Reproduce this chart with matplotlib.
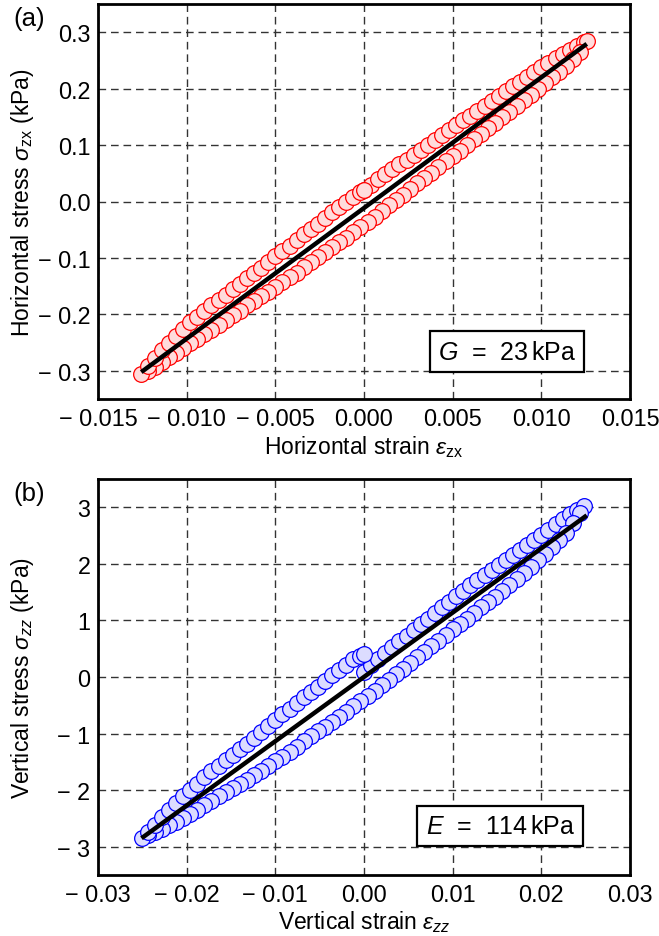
import matplotlib
matplotlib.use("Agg")
import matplotlib.pyplot as plt

plt.rcParams['font.family'] = ['Liberation Sans', 'DejaVu Sans']
plt.rcParams['mathtext.fontset'] = 'custom'
plt.rcParams['mathtext.rm'] = 'Liberation Sans'
plt.rcParams['mathtext.it'] = 'Liberation Sans:italic'
plt.rcParams['mathtext.bf'] = 'Liberation Sans:bold'

# ---------------- Panel (a): shear loop ----------------
a_strain = [
    # loading (upper, right)
    0.0000, 0.0004, 0.0008, 0.0012, 0.0016, 0.0020, 0.0024, 0.0028, 0.0032, 0.0036,
    0.0040, 0.0044, 0.0048, 0.0052, 0.0056, 0.0060, 0.0064, 0.0068, 0.0072, 0.0076,
    0.0080, 0.0084, 0.0088, 0.0092, 0.0096, 0.0100, 0.0104, 0.0108, 0.0112, 0.0116,
    0.0120, 0.0124, 0.0126,
    # unloading (lower)
    0.0122, 0.0118, 0.0114, 0.0110, 0.0106, 0.0102, 0.0098, 0.0094, 0.0090, 0.0086,
    0.0082, 0.0078, 0.0074, 0.0070, 0.0066, 0.0062, 0.0058, 0.0054, 0.0050, 0.0046,
    0.0042, 0.0038, 0.0034, 0.0030, 0.0026, 0.0022, 0.0018, 0.0014, 0.0010, 0.0006,
    0.0002, -0.0002, -0.0006, -0.0010, -0.0014, -0.0018, -0.0022, -0.0026, -0.0030, -0.0034,
    -0.0038, -0.0042, -0.0046, -0.0050, -0.0054, -0.0058, -0.0062, -0.0066, -0.0070, -0.0074,
    -0.0078, -0.0082, -0.0086, -0.0090, -0.0094, -0.0098, -0.0102, -0.0106, -0.0110, -0.0114,
    -0.0118, -0.0122, -0.0126,
    # reloading (upper, left)
    -0.0122, -0.0118, -0.0114, -0.0110, -0.0106, -0.0102, -0.0098, -0.0094, -0.0090, -0.0086,
    -0.0082, -0.0078, -0.0074, -0.0070, -0.0066, -0.0062, -0.0058, -0.0054, -0.0050, -0.0046,
    -0.0042, -0.0038, -0.0034, -0.0030, -0.0026, -0.0022, -0.0018, -0.0014, -0.0010, -0.0006,
    -0.0002, 0.0000,
]
a_stress = [
    0.020, 0.030, 0.039, 0.048, 0.057, 0.066, 0.074, 0.083, 0.092, 0.101,
    0.109, 0.117, 0.127, 0.135, 0.144, 0.152, 0.161, 0.170, 0.178, 0.187,
    0.196, 0.204, 0.212, 0.221, 0.230, 0.238, 0.246, 0.254, 0.262, 0.269,
    0.276, 0.282, 0.285,
    0.265, 0.253, 0.241, 0.230, 0.220, 0.210, 0.199, 0.189, 0.179, 0.169,
    0.159, 0.149, 0.139, 0.130, 0.119, 0.110, 0.100, 0.090, 0.080, 0.071,
    0.061, 0.051, 0.041, 0.032, 0.022, 0.012, 0.002, -0.007, -0.016, -0.027,
    -0.036, -0.045, -0.054, -0.064, -0.072, -0.081, -0.090, -0.099, -0.108, -0.116,
    -0.126, -0.134, -0.142, -0.151, -0.160, -0.168, -0.176, -0.184, -0.194, -0.202,
    -0.210, -0.218, -0.227, -0.235, -0.243, -0.251, -0.260, -0.268, -0.276, -0.284,
    -0.293, -0.301, -0.306,
    -0.292, -0.278, -0.263, -0.250, -0.238, -0.226, -0.214, -0.204, -0.194, -0.184,
    -0.174, -0.165, -0.155, -0.146, -0.136, -0.127, -0.117, -0.108, -0.097, -0.088,
    -0.078, -0.069, -0.058, -0.049, -0.039, -0.029, -0.019, -0.010, -0.001, 0.008,
    0.016, 0.020,
]
a_fit_strain = [-0.01246, 0.01246]
a_fit_stress = [-0.300, 0.277]
a_xticks = [-0.015, -0.010, -0.005, 0.000, 0.005, 0.010, 0.015]
a_xticklabels = ['\u2212 0.015', '\u2212 0.010', '\u2212 0.005', '0.000', '0.005', '0.010', '0.015']
a_yticks = [-0.3, -0.2, -0.1, 0.0, 0.1, 0.2, 0.3]
a_yticklabels = ['\u2212 0.3', '\u2212 0.2', '\u2212 0.1', '0.0', '0.1', '0.2', '0.3']

# ---------------- Panel (b): normal loop ----------------
b_strain = [
    0.0000, 0.0008, 0.0016, 0.0024, 0.0032, 0.0040, 0.0048, 0.0056, 0.0064, 0.0072,
    0.0080, 0.0088, 0.0096, 0.0104, 0.0112, 0.0120, 0.0128, 0.0136, 0.0144, 0.0152,
    0.0160, 0.0168, 0.0176, 0.0184, 0.0192, 0.0200, 0.0208, 0.0216, 0.0224, 0.0232,
    0.0240, 0.0248,
    0.0244, 0.0236, 0.0228, 0.0220, 0.0212, 0.0204, 0.0196, 0.0188, 0.0180, 0.0172,
    0.0164, 0.0156, 0.0148, 0.0140, 0.0132, 0.0124, 0.0116, 0.0108, 0.0100, 0.0092,
    0.0084, 0.0076, 0.0068, 0.0060, 0.0052, 0.0044, 0.0036, 0.0028, 0.0020, 0.0012,
    0.0004, -0.0004, -0.0012, -0.0020, -0.0028, -0.0036, -0.0044, -0.0052, -0.0060, -0.0068,
    -0.0076, -0.0084, -0.0092, -0.0100, -0.0108, -0.0116, -0.0124, -0.0132, -0.0140, -0.0148,
    -0.0156, -0.0164, -0.0172, -0.0180, -0.0188, -0.0196, -0.0204, -0.0212, -0.0220, -0.0228,
    -0.0236, -0.0244, -0.0250,
    -0.0244, -0.0236, -0.0228, -0.0220, -0.0212, -0.0204, -0.0196, -0.0188, -0.0180, -0.0172,
    -0.0164, -0.0156, -0.0148, -0.0140, -0.0132, -0.0124, -0.0116, -0.0108, -0.0100, -0.0092,
    -0.0084, -0.0076, -0.0068, -0.0060, -0.0052, -0.0044, -0.0036, -0.0028, -0.0020, -0.0012,
    -0.0004, 0.0000,
]
b_stress = [
    0.08, 0.21, 0.32, 0.43, 0.53, 0.64, 0.73, 0.83, 0.93, 1.03,
    1.13, 1.23, 1.33, 1.43, 1.52, 1.62, 1.71, 1.80, 1.89, 1.98,
    2.07, 2.15, 2.24, 2.34, 2.42, 2.51, 2.60, 2.70, 2.79, 2.88,
    2.96, 3.03,
    2.90, 2.72, 2.55, 2.42, 2.30, 2.18, 2.06, 1.95, 1.84, 1.73,
    1.62, 1.52, 1.42, 1.33, 1.23, 1.13, 1.03, 0.94, 0.84, 0.74,
    0.64, 0.54, 0.44, 0.35, 0.24, 0.15, 0.05, -0.05, -0.15, -0.25,
    -0.34, -0.43, -0.52, -0.61, -0.70, -0.79, -0.88, -0.96, -1.05, -1.14,
    -1.23, -1.32, -1.41, -1.49, -1.58, -1.66, -1.74, -1.82, -1.90, -1.97,
    -2.04, -2.11, -2.19, -2.27, -2.35, -2.43, -2.50, -2.56, -2.62, -2.68,
    -2.74, -2.80, -2.845,
    -2.74, -2.61, -2.48, -2.35, -2.23, -2.11, -2.00, -1.89, -1.77, -1.67,
    -1.57, -1.47, -1.37, -1.27, -1.18, -1.07, -0.97, -0.86, -0.76, -0.66,
    -0.56, -0.46, -0.36, -0.26, -0.17, -0.07, 0.03, 0.13, 0.22, 0.31,
    0.37, 0.41,
]
b_fit_strain = [-0.02489, 0.02492]
b_fit_stress = [-2.827, 2.834]
b_xticks = [-0.03, -0.02, -0.01, 0.00, 0.01, 0.02, 0.03]
b_xticklabels = ['\u2212 0.03', '\u2212 0.02', '\u2212 0.01', '0.00', '0.01', '0.02', '0.03']
b_yticks = [-3, -2, -1, 0, 1, 2, 3]
b_yticklabels = ['\u2212 3', '\u2212 2', '\u2212 1', '0', '1', '2', '3']

W, H = 659, 937
fig = plt.figure(figsize=(W / 100, H / 100), dpi=100)

def px_axes(l, t, r, b):
    return [l / W, 1 - b / H, (r - l) / W, (b - t) / H]

ax1 = fig.add_axes(px_axes(98, 5, 630, 400))
ax2 = fig.add_axes(px_axes(98, 480, 630, 876))

FS_TICK = 16.8
FS_LAB = 16.5
MS = 11.3

def style(ax, xt, xtl, yt, ytl, xlim, ylim):
    ax.set_xlim(*xlim)
    ax.set_ylim(*ylim)
    ax.set_xticks(xt)
    ax.set_xticklabels(xtl)
    ax.set_yticks(yt)
    ax.set_yticklabels(ytl)
    ax.tick_params(length=0, labelsize=FS_TICK, pad=5.5)
    ax.set_axisbelow(True)
    ax.grid(True, color='#333333', linestyle=(0, (5.5, 3.5)), linewidth=1.0)
    for s in ax.spines.values():
        s.set_linewidth(2.0)

# panel a
ax1.plot(a_strain, a_stress, 'o', ms=MS, mfc='#ffdcdc', mec='#ff0000', mew=0.9, zorder=3)
ax1.plot(a_fit_strain, a_fit_stress, '-', color='k', lw=3.2, zorder=4)
style(ax1, a_xticks, a_xticklabels, a_yticks, a_yticklabels, (-0.015, 0.015), (-0.35, 0.35))
ax1.set_xlabel(r'Horizontal strain $\varepsilon_{\mathrm{zx}}$', fontsize=FS_LAB, labelpad=2.5)
ax1.set_ylabel(r'Horizontal stress $\sigma_{\mathrm{zx}}$ (kPa)', fontsize=FS_LAB)
ax1.yaxis.set_label_coords(-0.116, 0.5)
ax1.text(0.769, 0.12, r'$G$  =  23$\,$kPa', transform=ax1.transAxes, fontsize=18,
         ha='center', va='center', zorder=6,
         bbox=dict(boxstyle='square,pad=0.33', fc='white', ec='k', lw=1.6))
fig.text(29 / W, 1 - 19 / H, '(a)', fontsize=18.5, ha='center', va='center')

# panel b
ax2.plot(b_strain, b_stress, 'o', ms=MS, mfc='#dcdcff', mec='#0000ff', mew=0.9, zorder=3)
ax2.plot(b_fit_strain, b_fit_stress, '-', color='k', lw=3.2, zorder=4)
style(ax2, b_xticks, b_xticklabels, b_yticks, b_yticklabels, (-0.03, 0.03), (-3.5, 3.5))
ax2.set_xlabel(r'Vertical strain $\varepsilon_{zz}$', fontsize=FS_LAB, labelpad=1.5)
ax2.set_ylabel(r'Vertical stress $\sigma_{zz}$ (kPa)', fontsize=FS_LAB)
ax2.yaxis.set_label_coords(-0.116, 0.5)
ax2.text(0.756, 0.124, r'$E$  =  114$\,$kPa', transform=ax2.transAxes, fontsize=18,
         ha='center', va='center', zorder=6,
         bbox=dict(boxstyle='square,pad=0.33', fc='white', ec='k', lw=1.6))
fig.text(29 / W, 1 - 494 / H, '(b)', fontsize=18.5, ha='center', va='center')

fig.savefig('out.png', dpi=100)
